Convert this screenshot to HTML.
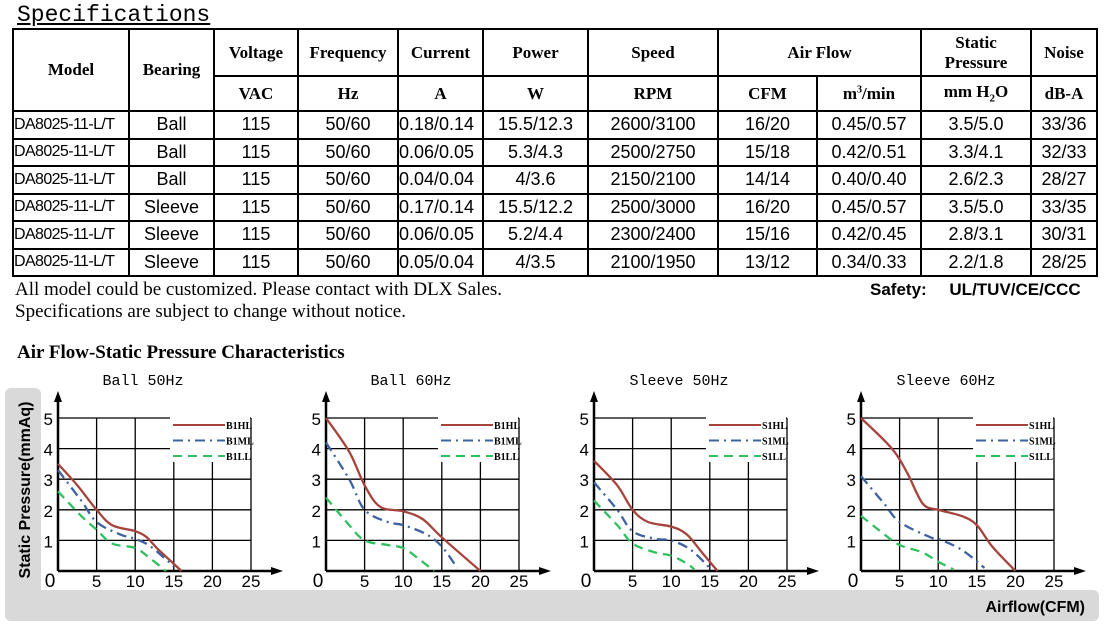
<!DOCTYPE html>
<html><head><meta charset="utf-8"><style>
body{margin:0;width:1116px;height:628px;background:#fff;position:relative;overflow:hidden;font-family:"Liberation Serif",serif}
.a{position:absolute}
table{position:absolute;left:12px;top:28px;border-collapse:collapse;table-layout:fixed}
td{border:2px solid #000;text-align:center;padding:0;font-family:"Liberation Sans",sans-serif;font-size:18px;height:25.5px;white-space:nowrap;overflow:hidden}
td.h{font-family:"Liberation Serif",serif;font-weight:bold;font-size:17px}
td.m{text-align:left;font-size:16px;letter-spacing:-0.6px}
td.l{text-align:left}
</style></head><body>
<div class="a" style="left:17px;top:2px;font-family:'Liberation Mono',monospace;font-size:23px;text-decoration:underline">Specifications</div>
<table>
<colgroup><col style="width:116px"><col style="width:85px"><col style="width:84px"><col style="width:100px"><col style="width:85px"><col style="width:105px"><col style="width:130px"><col style="width:99px"><col style="width:104px"><col style="width:110px"><col style="width:66px"></colgroup>
<tr style="height:47px"><td class="h" rowspan="2">Model</td><td class="h" rowspan="2">Bearing</td><td class="h">Voltage</td><td class="h">Frequency</td><td class="h">Current</td><td class="h">Power</td><td class="h">Speed</td><td class="h" colspan="2">Air Flow</td><td class="h" style="line-height:20px">Static<br>Pressure</td><td class="h">Noise</td></tr>
<tr style="height:35px"><td class="h">VAC</td><td class="h">Hz</td><td class="h">A</td><td class="h">W</td><td class="h">RPM</td><td class="h">CFM</td><td class="h">m<sup style="font-size:10px">3</sup>/min</td><td class="h">mm H<sub style="font-size:11px">2</sub>O</td><td class="h">dB-A</td></tr>
<tr><td class="m">DA8025-11-L/T</td><td>Ball</td><td>115</td><td>50/60</td><td class="l">0.18/0.14</td><td>15.5/12.3</td><td>2600/3100</td><td>16/20</td><td>0.45/0.57</td><td>3.5/5.0</td><td>33/36</td></tr>
<tr><td class="m">DA8025-11-L/T</td><td>Ball</td><td>115</td><td>50/60</td><td class="l">0.06/0.05</td><td>5.3/4.3</td><td>2500/2750</td><td>15/18</td><td>0.42/0.51</td><td>3.3/4.1</td><td>32/33</td></tr>
<tr><td class="m">DA8025-11-L/T</td><td>Ball</td><td>115</td><td>50/60</td><td class="l">0.04/0.04</td><td>4/3.6</td><td>2150/2100</td><td>14/14</td><td>0.40/0.40</td><td>2.6/2.3</td><td>28/27</td></tr>
<tr><td class="m">DA8025-11-L/T</td><td>Sleeve</td><td>115</td><td>50/60</td><td class="l">0.17/0.14</td><td>15.5/12.2</td><td>2500/3000</td><td>16/20</td><td>0.45/0.57</td><td>3.5/5.0</td><td>33/35</td></tr>
<tr><td class="m">DA8025-11-L/T</td><td>Sleeve</td><td>115</td><td>50/60</td><td class="l">0.06/0.05</td><td>5.2/4.4</td><td>2300/2400</td><td>15/16</td><td>0.42/0.45</td><td>2.8/3.1</td><td>30/31</td></tr>
<tr><td class="m">DA8025-11-L/T</td><td>Sleeve</td><td>115</td><td>50/60</td><td class="l">0.05/0.04</td><td>4/3.5</td><td>2100/1950</td><td>13/12</td><td>0.34/0.33</td><td>2.2/1.8</td><td>28/25</td></tr>
</table>
<div class="a" style="left:15px;top:279px;font-size:19px;line-height:22px">All model could be customized. Please contact with DLX Sales.<br>Specifications are subject to change without notice.</div>
<div class="a" style="left:870px;top:280px;font-family:'Liberation Sans',sans-serif;font-weight:bold;font-size:17px;word-spacing:18px">Safety: UL/TUV/CE/CCC</div>
<div class="a" style="left:17px;top:342px;font-size:19px;font-weight:bold">Air Flow-Static Pressure Characteristics</div>
<svg class="a" style="left:0;top:0" width="1116" height="628" id="sv">
<rect x="5" y="388" width="36" height="233" rx="6" fill="#d9d9d9"/>
<rect x="5" y="590" width="1094" height="31" rx="6" fill="#d9d9d9"/>
<rect x="41" y="388" width="1060" height="202" fill="#fff"/>
<text transform="translate(30,490) rotate(-90)" text-anchor="middle" font-family="Liberation Sans,sans-serif" font-weight="bold" font-size="16">Static Pressure(mmAq)</text>
<text x="1085" y="612" text-anchor="end" font-family="Liberation Sans,sans-serif" font-weight="bold" font-size="16">Airflow(CFM)</text>
</svg>
<script>
var sv=document.getElementById('sv'),s='';
var X0=[58,326,594,861],T=['Ball 50Hz','Ball 60Hz','Sleeve 50Hz','Sleeve 60Hz'],P=['B1','B1','S1','S1'];
var D=[
[[[0,3.5],[2.5,2.8],[5,2],[7,1.5],[10,1.3],[11.5,1.1],[13,0.7],[16,0]],[[0,3.3],[3,2.3],[5,1.6],[8,1.2],[10,1.05],[12,0.8],[15,0.15]],[[0,2.6],[3,1.8],[5,1.35],[7,0.9],[10,0.75],[12,0.4],[14,0]]],
[[[0,5],[3,3.9],[5,2.8],[7,2.1],[10,1.95],[12.5,1.7],[15,1.1],[20,0]],[[0,4.2],[3,3],[5,2],[8,1.6],[10,1.5],[13,1.2],[15,0.8],[17,0.1]],[[0,2.4],[3,1.5],[5,1],[8,0.85],[10,0.75],[12,0.4],[14,0]]],
[[[0,3.6],[3,2.8],[5,2],[7,1.6],[10,1.45],[12,1.2],[14,0.6],[16,0]],[[0,2.9],[3,2],[5,1.3],[8,1.05],[10,1],[12.5,0.7],[15,0.1]],[[0,2.3],[3,1.5],[5,0.9],[8,0.6],[10,0.5],[12,0.25],[13,0.05]]],
[[[0,5],[4,4],[6,3.2],[8,2.2],[10,2],[13,1.8],[15,1.5],[17,0.8],[20,0]],[[0,3.1],[3,2.2],[5,1.6],[9,1.1],[10,1.05],[13,0.7],[16,0.1]],[[0,1.8],[3,1.2],[5,0.85],[8,0.6],[10,0.3],[12,0.05]]]];
var st=[['#a5443c',''],['#3c62a0','10 5 2 5'],['#30c060','9 6']];
var Y0=571,sx=7.72,sy=30.6;
function smooth(p){var d='M'+p[0][0].toFixed(1)+' '+p[0][1].toFixed(1);
 for(var i=0;i<p.length-1;i++){var a=p[Math.max(i-1,0)],b=p[i],c=p[i+1],e=p[Math.min(i+2,p.length-1)];
  d+=' C'+(b[0]+(c[0]-a[0])/6).toFixed(1)+' '+(b[1]+(c[1]-a[1])/6).toFixed(1)+' '+(c[0]-(e[0]-b[0])/6).toFixed(1)+' '+(c[1]-(e[1]-b[1])/6).toFixed(1)+' '+c[0].toFixed(1)+' '+c[1].toFixed(1);}
 return d;}
for(var c=0;c<4;c++){var x0=X0[c];
 s+='<text x="'+(x0+85)+'" y="385" text-anchor="middle" font-family="Liberation Mono,monospace" font-size="15">'+T[c]+'</text>';
 for(var i=1;i<=5;i++){s+='<line x1="'+(x0+i*5*sx)+'" y1="'+(Y0-5*sy)+'" x2="'+(x0+i*5*sx)+'" y2="'+Y0+'" stroke="#000" stroke-width="1.3"/>';
  s+='<line x1="'+x0+'" y1="'+(Y0-i*sy)+'" x2="'+(x0+25*sx)+'" y2="'+(Y0-i*sy)+'" stroke="#000" stroke-width="1.3"/>';
  s+='<text x="'+(x0-5)+'" y="'+(Y0-i*sy+7)+'" text-anchor="end" font-family="Liberation Sans,sans-serif" font-size="17">'+i+'</text>';
  s+='<text x="'+(x0+i*5*sx)+'" y="'+(Y0+16)+'" text-anchor="middle" font-family="Liberation Sans,sans-serif" font-size="17">'+(i*5)+'</text>';}
 s+='<text x="'+(x0-8)+'" y="'+(Y0+16)+'" text-anchor="middle" font-family="Liberation Sans,sans-serif" font-size="19">0</text>';
 s+='<rect x="'+(x0+112)+'" y="'+(Y0-154)+'" width="80" height="45" fill="#fff"/>';
 s+='<line x1="'+x0+'" y1="'+Y0+'" x2="'+x0+'" y2="400" stroke="#000" stroke-width="2.5"/><path d="M'+(x0-4)+' 402 L'+x0+' 391 L'+(x0+4)+' 402Z"/>';
 s+='<line x1="'+x0+'" y1="'+Y0+'" x2="'+(x0+215)+'" y2="'+Y0+'" stroke="#000" stroke-width="2.5"/><path d="M'+(x0+213)+' '+(Y0-4)+' L'+(x0+225)+' '+Y0+' L'+(x0+213)+' '+(Y0+4)+'Z"/>';
 var L=['HL','ML','LL'];
 for(var k=0;k<3;k++){var pts=D[c][k].map(function(p){return [x0+p[0]*sx,Y0-p[1]*sy]});
  s+='<path d="'+smooth(pts)+'" fill="none" stroke="'+st[k][0]+'" stroke-width="2.3" stroke-dasharray="'+st[k][1]+'"/>';
  var ly=Y0-146+k*15.5;
  s+='<line x1="'+(x0+115)+'" y1="'+ly+'" x2="'+(x0+167)+'" y2="'+ly+'" stroke="'+st[k][0]+'" stroke-width="2" stroke-dasharray="'+st[k][1]+'"/>';
  s+='<text x="'+(x0+168)+'" y="'+(ly+4)+'" font-family="Liberation Serif,serif" font-weight="bold" font-size="10">'+P[c]+L[k]+'</text>';}
}
sv.insertAdjacentHTML('beforeend',s);
</script>
</body></html>
